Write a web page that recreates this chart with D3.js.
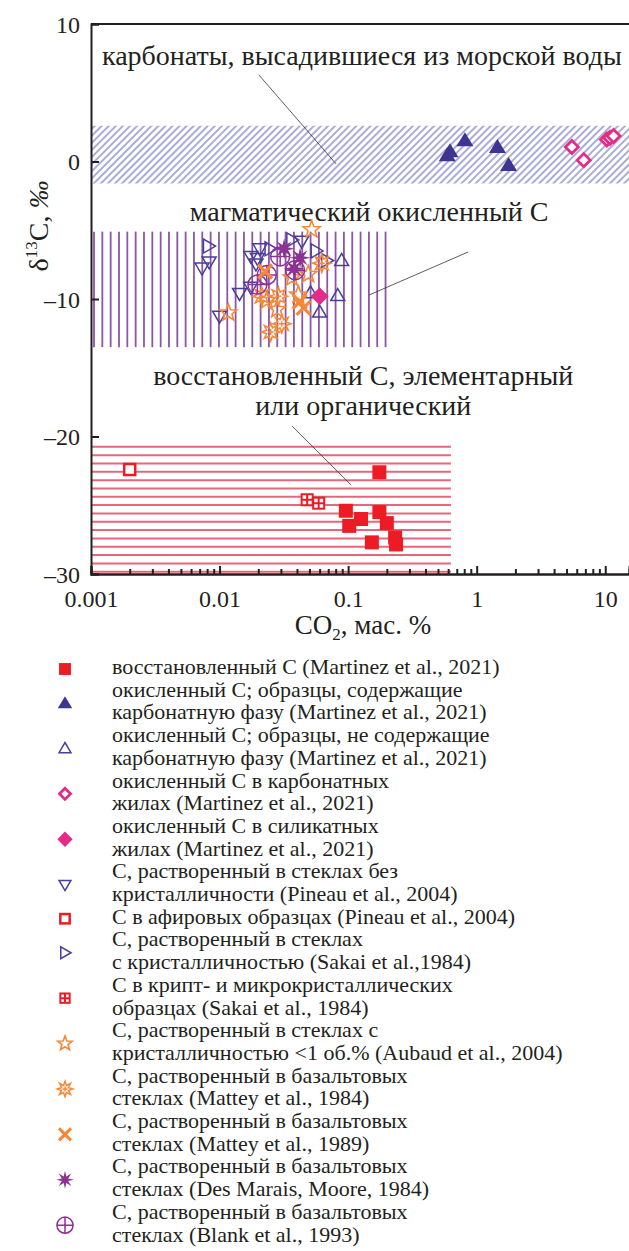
<!DOCTYPE html>
<html>
<head>
<meta charset="utf-8">
<script src="https://cdn.jsdelivr.net/npm/d3@7"></script>
<style>
  body { margin: 0; background: #fff; }
  svg { display: block; }
  text { font-family: "Liberation Serif", "Times New Roman", serif; fill: #231f20; }
</style>
</head>
<body>
<svg id="chart" width="629" height="1251"></svg>
<script>
// axis domains and ticks
const xDomain = [0.001, 15.3];
const yDomain = [-30, 10];
const xMajor = [0.001, 0.01, 0.1, 1, 10];
const xMajorLabels = ["0.001", "0.01", "0.1", "1", "10"];
const yMajor = [10, 0, -10, -20, -30];
const yMajorLabels = ["10", "0", "\u201310", "\u201320", "\u201330"];

// shaded fields [x0, x1, y0, y1]
const bandCarbonate = [0.001, 15.3, -1.6, 2.6];
const bandMagmatic = [0.001, 0.2, -13.5, -5.1];
const bandReduced = [0.001, 0.63, -30, -20.75];

// data points [CO2 wt%, d13C]
const reducedC = [[0.175, -22.6], [0.096, -25.4], [0.126, -26.0], [0.102, -26.5], [0.175, -25.5],
  [0.20, -26.3], [0.153, -27.7], [0.232, -27.35], [0.236, -27.85]];
const oxidCarb = [[0.59, 0.45], [0.62, 0.75], [0.81, 1.55], [1.45, 1.05], [1.77, -0.25]];
const oxidNoCarb = [[0.089, -7.2], [0.083, -9.75], [0.060, -10.95], [0.051, -9.55]];
const veinCarb = [[5.5, 1.05], [6.8, 0.1], [10.3, 1.6], [10.9, 1.72], [11.6, 1.85]];
const veinSil = [[0.060, -9.8]];
const pineauGlass = [[0.0073, -7.75], [0.0083, -7.3], [0.0175, -6.9], [0.0206, -6.35], [0.0197, -7.05],
  [0.0192, -7.45], [0.0143, -9.6], [0.0175, -9.15], [0.0100, -11.25], [0.0436, -5.8]];
const pineauAphyric = [[0.002, -22.4]];
const sakaiGlass = [[0.0082, -6.15], [0.0247, -6.35], [0.0365, -5.7], [0.0564, -6.5], [0.068, -7.2]];
const sakaiCrypto = [[0.048, -24.6], [0.059, -24.85]];
const aubaud = [[0.0117, -11.0], [0.052, -4.95], [0.049, -8.2], [0.0365, -8.45], [0.041, -9.7],
  [0.028, -10.75], [0.0233, -10.1]];
const mattey84 = [[0.0624, -7.4], [0.0287, -9.8], [0.0213, -9.8], [0.0305, -11.8], [0.025, -12.4]];
const mattey89 = [[0.0226, -8.0], [0.045, -10.65], [0.042, -10.2]];
const desMarais = [[0.0318, -6.35], [0.0423, -7.0], [0.038, -7.8]];
const blank = [[0.0296, -6.9], [0.0233, -8.25], [0.0197, -8.95], [0.0387, -7.9]];

// annotation labels and leader lines (data coords)
const notes = [
  { lines: ["карбонаты, высадившиеся из морской воды"], x: 0.128, y: [7.0], from: [0.0202, 6.3], to: [0.0807, -0.18] },
  { lines: ["магматический окисленный С"], x: 0.1455, y: [-4.33], from: [0.859, -6.58], to: [0.1456, -9.71] },
  { lines: ["восстановленный С, элементарный", "или органический"], x: 0.131, y: [-16.25, -18.44], from: [0.0367, -19.24], to: [0.1055, -23.53] }
];

const legendItems = [
  { m: "sq", t: ["восстановленный С (Martinez et al., 2021)"] },
  { m: "triF", t: ["окисленный С; образцы, содержащие", "карбонатную фазу (Martinez et al., 2021)"] },
  { m: "triO", t: ["окисленный С; образцы, не содержащие", "карбонатную фазу (Martinez et al., 2021)"] },
  { m: "diaO", t: ["окисленный С в карбонатных", "жилах (Martinez et al., 2021)"] },
  { m: "diaF", t: ["окисленный С в силикатных", "жилах (Martinez et al., 2021)"] },
  { m: "triD", t: ["С, растворенный в стеклах без", "кристалличности (Pineau et al., 2004)"] },
  { m: "sqO", t: ["С в афировых образцах (Pineau et al., 2004)"] },
  { m: "triR", t: ["С, растворенный в стеклах", "с кристалличностью (Sakai et al.,1984)"] },
  { m: "sqG", t: ["С в крипт- и микрокристаллических", "образцах (Sakai et al., 1984)"] },
  { m: "star", t: ["С, растворенный в стеклах с", "кристалличностью <1 об.% (Aubaud et al., 2004)"] },
  { m: "sun", t: ["С, растворенный в базальтовых", "стеклах (Mattey et al., 1984)"] },
  { m: "x", t: ["С, растворенный в базальтовых", "стеклах (Mattey et al., 1989)"] },
  { m: "ast", t: ["С, растворенный в базальтовых", "стеклах (Des Marais, Moore, 1984)"] },
  { m: "cplus", t: ["С, растворенный в базальтовых", "стеклах (Blank et al., 1993)"] }
];

const RED = "#ed1c24", NAVY = "#3d3592", VIOLET = "#4b3d9e", PINK = "#e52b8a",
  ORANGE = "#f5883a", PURPLE = "#8d3292";

const svg = d3.select("#chart");
const x = d3.scaleLog().domain(xDomain).range([91, 629]);
const y = d3.scaleLinear().domain(yDomain).range([574, 24]);

// ---- shaded fields
const defs = svg.append("defs");
defs.append("pattern").attr("id", "hatch").attr("patternUnits", "userSpaceOnUse")
  .attr("width", 5).attr("height", 10).attr("patternTransform", "rotate(45)")
  .append("line").attr("x1", 1).attr("x2", 1).attr("y1", 0).attr("y2", 10)
  .attr("stroke", "#7275ba").attr("stroke-width", 1.2);

svg.append("rect")
  .attr("x", x(bandCarbonate[0])).attr("width", x(bandCarbonate[1]) - x(bandCarbonate[0]))
  .attr("y", y(bandCarbonate[3])).attr("height", y(bandCarbonate[2]) - y(bandCarbonate[3]))
  .attr("fill", "url(#hatch)");

const mx0 = x(bandMagmatic[0]), mx1 = x(bandMagmatic[1]);
svg.append("g").selectAll("line").data(d3.range(mx0 + 3, mx1 + 1, 8.33)).join("line")
  .attr("x1", d => d).attr("x2", d => d)
  .attr("y1", y(bandMagmatic[3])).attr("y2", y(bandMagmatic[2]))
  .attr("stroke", "#8b55a8").attr("stroke-width", 1.8);

const ry0 = y(bandReduced[3]), ry1 = y(bandReduced[2]);
svg.append("g").selectAll("line").data(d3.range(ry0, ry1, 8.33)).join("line")
  .attr("x1", x(bandReduced[0])).attr("x2", x(bandReduced[1]))
  .attr("y1", d => d).attr("y2", d => d)
  .attr("stroke", "#e4677b").attr("stroke-width", 2);

// ---- annotations
notes.forEach(n => {
  svg.append("line")
    .attr("x1", x(n.from[0])).attr("y1", y(n.from[1]))
    .attr("x2", x(n.to[0])).attr("y2", y(n.to[1]))
    .attr("stroke", "#333").attr("stroke-width", 0.8);
  n.lines.forEach((s, i) => {
    svg.append("text").attr("x", x(n.x)).attr("y", y(n.y[i]))
      .attr("text-anchor", "middle").attr("font-size", 28).text(s);
  });
});

// ---- marker shapes
function poly(pts) { return "M" + pts.map(p => p.join(",")).join("L") + "Z"; }
function starPts(n, ro, ri) {
  const pts = [];
  for (let i = 0; i < 2 * n; i++) {
    const a = Math.PI * i / n - Math.PI / 2, r = i % 2 ? ri : ro;
    pts.push([r * Math.cos(a), r * Math.sin(a)]);
  }
  return pts;
}

function marker(g, type, k) {
  const s = k || 1;
  if (type === "sq") {
    g.append("rect").attr("x", -7 * s).attr("y", -7 * s).attr("width", 14 * s).attr("height", 14 * s).attr("fill", RED);
  } else if (type === "sqO") {
    g.append("rect").attr("x", -5.5 * s).attr("y", -5.5 * s).attr("width", 11 * s).attr("height", 11 * s)
      .attr("fill", "#fff").attr("stroke", RED).attr("stroke-width", 2.5);
  } else if (type === "sqG") {
    g.append("rect").attr("x", -5.5 * s).attr("y", -5.5 * s).attr("width", 11 * s).attr("height", 11 * s)
      .attr("fill", "#fff").attr("stroke", RED).attr("stroke-width", 2);
    g.append("path").attr("d", `M${-5.5 * s},0H${5.5 * s}M0,${-5.5 * s}V${5.5 * s}`).attr("stroke", RED).attr("stroke-width", 2);
  } else if (type === "triF") {
    g.append("path").attr("d", poly([[0, -8 * s], [8.5 * s, 6 * s], [-8.5 * s, 6 * s]])).attr("fill", NAVY);
  } else if (type === "triO") {
    g.append("path").attr("d", poly([[0, -7 * s], [7 * s, 5 * s], [-7 * s, 5 * s]])).attr("fill", "none").attr("stroke", VIOLET).attr("stroke-width", 1.5);
  } else if (type === "triD") {
    g.append("path").attr("d", poly([[0, 7 * s], [7 * s, -5 * s], [-7 * s, -5 * s]])).attr("fill", "none").attr("stroke", VIOLET).attr("stroke-width", 1.5);
  } else if (type === "triR") {
    g.append("path").attr("d", poly([[7 * s, 0], [-5 * s, 7 * s], [-5 * s, -7 * s]])).attr("fill", "none").attr("stroke", VIOLET).attr("stroke-width", 1.5);
  } else if (type === "diaO") {
    g.append("path").attr("d", poly([[0, -6.5 * s], [6.5 * s, 0], [0, 6.5 * s], [-6.5 * s, 0]])).attr("fill", "#fff").attr("stroke", PINK).attr("stroke-width", 2.8);
  } else if (type === "diaF") {
    g.append("path").attr("d", poly([[0, -9 * s], [9 * s, 0], [0, 9 * s], [-9 * s, 0]])).attr("fill", PINK);
  } else if (type === "star") {
    g.append("path").attr("d", poly(starPts(5, 9 * s, 3.8 * s))).attr("fill", "none").attr("stroke", ORANGE).attr("stroke-width", 1.6);
  } else if (type === "sun") {
    g.append("path").attr("d", poly(starPts(8, 9 * s, 4.5 * s))).attr("fill", "none").attr("stroke", ORANGE).attr("stroke-width", 1.6);
    g.append("path").attr("d", `M${-3 * s},0H${3 * s}M0,${-3 * s}V${3 * s}`).attr("stroke", ORANGE).attr("stroke-width", 1.4);
  } else if (type === "x") {
    const r = 7 * s;
    g.append("path").attr("d", `M${-r},${-r}L${r},${r}M${-r},${r}L${r},${-r}`).attr("stroke", ORANGE).attr("stroke-width", 3.2);
  } else if (type === "ast") {
    g.append("path").attr("d", poly(starPts(8, 10.5 * s, 4 * s))).attr("fill", PURPLE);
  } else if (type === "cplus") {
    const r = 9.5 * s;
    g.append("circle").attr("r", r).attr("fill", "none").attr("stroke", PURPLE).attr("stroke-width", 1.5);
    g.append("path").attr("d", `M${-r},0H${r}M0,${-r}V${r}`).attr("stroke", PURPLE).attr("stroke-width", 1.5);
  }
}

function plotSeries(data, type) {
  const g = svg.append("g");
  data.forEach(d => {
    marker(g.append("g").attr("transform", `translate(${x(d[0])},${y(d[1])})`), type, 1);
  });
}

plotSeries(pineauAphyric, "sqO");
plotSeries(sakaiCrypto, "sqG");
plotSeries(reducedC, "sq");
plotSeries(oxidCarb, "triF");
plotSeries(veinCarb, "diaO");
plotSeries(pineauGlass, "triD");
plotSeries(sakaiGlass, "triR");
plotSeries(oxidNoCarb, "triO");
plotSeries(veinSil, "diaF");
plotSeries(aubaud, "star");
plotSeries(mattey84, "sun");
plotSeries(blank, "cplus");
plotSeries(desMarais, "ast");
plotSeries(mattey89, "x");

// ---- axes
const axisColor = "#231f20";
const minor = x.ticks().filter(v => !xMajor.includes(v) && v <= xDomain[1]);
const gxMinor = svg.append("g").attr("transform", `translate(0,${y(yDomain[0])})`)
  .call(d3.axisBottom(x).tickValues(minor).tickSize(-5).tickFormat(""));
const gx = svg.append("g").attr("transform", `translate(0,${y(yDomain[0])})`)
  .call(d3.axisBottom(x).tickValues(xMajor).tickSize(-8).tickPadding(16)
    .tickFormat((d, i) => xMajorLabels[i]));
const gy = svg.append("g").attr("transform", `translate(${x(xDomain[0])},0)`)
  .call(d3.axisLeft(y).tickValues(yMajor).tickSize(-8).tickPadding(11)
    .tickFormat((d, i) => yMajorLabels[i]));
[gxMinor, gx, gy].forEach(g => {
  g.select(".domain").attr("stroke", axisColor).attr("stroke-width", 2);
  g.selectAll(".tick line").attr("stroke", axisColor).attr("stroke-width", 2);
  g.selectAll(".tick text").attr("font-family", "Liberation Serif, serif").attr("font-size", 24).attr("fill", axisColor);
});
gy.selectAll(".tick text").attr("dy", "0.34em");
// top frame
svg.append("line").attr("x1", x(xDomain[0])).attr("x2", x(xDomain[1]))
  .attr("y1", y(yDomain[1])).attr("y2", y(yDomain[1]))
  .attr("stroke", axisColor).attr("stroke-width", 2);

// axis titles
const xt = svg.append("text").attr("x", 363).attr("y", 634).attr("text-anchor", "middle").attr("font-size", 27);
xt.append("tspan").text("CO");
xt.append("tspan").attr("font-size", 17).attr("dy", 6).text("2");
xt.append("tspan").attr("dy", -6).text(", мас. %");

const yt = svg.append("text").attr("transform", "translate(48,226) rotate(-90)").attr("text-anchor", "middle").attr("font-size", 28);
yt.append("tspan").text("δ");
yt.append("tspan").attr("font-size", 17).attr("dy", -11).text("13");
yt.append("tspan").attr("dy", 11).text("C, ");
yt.append("tspan").attr("font-style", "italic").text("‰");

// ---- legend
const lineH = 22.7, firstBase = 674;
let lineIdx = 0;
const lg = svg.append("g");
legendItems.forEach(it => {
  const b0 = firstBase + lineIdx * lineH;
  const b1 = firstBase + (lineIdx + it.t.length - 1) * lineH;
  marker(lg.append("g").attr("transform", `translate(65,${(b0 + b1) / 2 - 5})`), it.m, 0.85);
  it.t.forEach((s, i) => {
    lg.append("text").attr("x", 112).attr("y", b0 + i * lineH).attr("font-size", 22).text(s);
  });
  lineIdx += it.t.length;
});
</script>
</body>
</html>
